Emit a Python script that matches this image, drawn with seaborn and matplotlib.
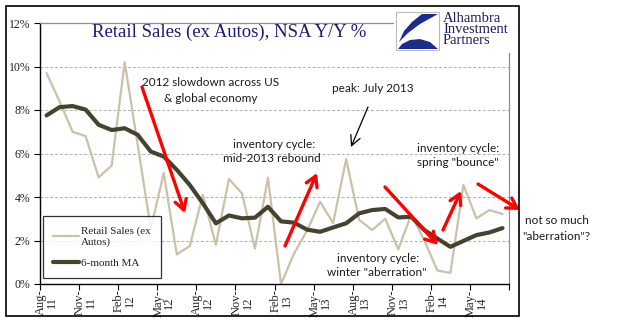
import numpy as np
import pandas as pd
import matplotlib
matplotlib.use("Agg")
import matplotlib.pyplot as plt
from matplotlib.patches import Rectangle, Polygon
from matplotlib.ticker import FixedLocator
import seaborn as sns

# ---------------- data ----------------
months = ["Aug-11", "Sep-11", "Oct-11", "Nov-11", "Dec-11", "Jan-12", "Feb-12", "Mar-12",
          "Apr-12", "May-12", "Jun-12", "Jul-12", "Aug-12", "Sep-12", "Oct-12", "Nov-12",
          "Dec-12", "Jan-13", "Feb-13", "Mar-13", "Apr-13", "May-13", "Jun-13", "Jul-13",
          "Aug-13", "Sep-13", "Oct-13", "Nov-13", "Dec-13", "Jan-14", "Feb-14", "Mar-14",
          "Apr-14", "May-14", "Jun-14", "Jul-14"]
retail_sales = [9.7, 8.4, 7.0, 6.8, 4.9, 5.45, 10.2, 6.4,
                2.55, 5.1, 1.36, 1.75, 4.1, 1.8, 4.83, 4.17,
                1.63, 4.88, 0.0, 1.4, 2.45, 3.78, 2.8, 5.74,
                2.95, 2.48, 3.0, 1.59, 3.2, 2.0, 0.62, 0.51,
                4.55, 3.02, 3.4, 3.22]
ma_6month = [7.75, 8.13, 8.18, 8.02, 7.32, 7.08, 7.16, 6.86,
             6.09, 5.86, 5.25, 4.55, 3.71, 2.79, 3.15, 3.02,
             3.05, 3.55, 2.88, 2.82, 2.5, 2.4, 2.6, 2.79,
             3.25, 3.4, 3.45, 3.06, 3.09, 2.48, 2.09, 1.71,
             1.98, 2.25, 2.37, 2.57]
tick_labels = ["Aug-\n11", "Nov-\n11", "Feb-\n12", "May-\n12", "Aug-\n12", "Nov-\n12",
               "Feb-\n13", "May-\n13", "Aug-\n13", "Nov-\n13", "Feb-\n14", "May-\n14"]
y_ticks = [0, 2, 4, 6, 8, 10, 12]

# ---------------- setup ----------------
W, H = 629, 324
sns.set_theme(style="white")
plt.rcParams["font.family"] = ["Liberation Serif", "DejaVu Serif"]

fig = plt.figure(figsize=(W / 100, H / 100), dpi=100)
fig.patch.set_facecolor("white")
ax = fig.add_axes([40 / W, 1 - 284 / H, (509 - 40) / W, (284 - 23) / H])

df = pd.DataFrame({"pos": np.arange(len(months)) + 0.5,
                   "Retail Sales (ex\nAutos)": retail_sales,
                   "6-month MA": ma_6month})

c_retail = "#C9C2A8"
c_ma = "#45432F"
sns.lineplot(data=df, x="pos", y="Retail Sales (ex\nAutos)", ax=ax, color=c_retail,
             lw=1.6, label="Retail Sales (ex\nAutos)")
sns.lineplot(data=df, x="pos", y="6-month MA", ax=ax, color=c_ma, lw=3.0,
             label="6-month MA")

ax.set_xlim(0, len(months))
ax.set_ylim(0, 12)
ax.set_xlabel("")
ax.set_ylabel("")

# y axis
ax.set_yticks(y_ticks)
ax.set_yticklabels([f"{v}%" for v in y_ticks], fontsize=8.5, color="#222222")
ax.tick_params(axis="y", length=4, width=0.8, color="black", pad=3, left=True)
for v in y_ticks[1:-1]:
    ax.axhline(v, color="#B0B0B0", lw=0.7, ls=(0, (3, 2)), zorder=0)

# x axis: labels centered on categories, tick marks at boundaries
ax.xaxis.set_major_locator(FixedLocator(np.arange(0, 36, 3) + 0.5))
ax.set_xticklabels(tick_labels, rotation=90, fontsize=9, color="#222222",
                   linespacing=0.9, ha="center", va="top")
ax.tick_params(axis="x", which="major", length=0, pad=4, bottom=True)
ax.xaxis.set_minor_locator(FixedLocator(np.arange(0, 37, 3)))
ax.tick_params(axis="x", which="minor", length=4, width=0.8, color="black", bottom=True)

for s in ["left", "bottom"]:
    ax.spines[s].set_color("black")
    ax.spines[s].set_linewidth(1.0)
for s in ["top", "right"]:
    ax.spines[s].set_color("#909090")
    ax.spines[s].set_linewidth(0.9)

leg = ax.legend(loc="lower left", bbox_to_anchor=(3 / 469, 6 / 261), fontsize=8,
                frameon=True, fancybox=False, edgecolor="black", handlelength=2.3,
                handletextpad=0.2, borderpad=0.9, labelspacing=1.0, borderaxespad=0)
leg.get_frame().set_linewidth(0.9)
for t in leg.get_texts():
    t.set_color("#222222")

# ---------------- helpers ----------------
def fx(x):
    return x / W


def fy(y):
    return 1 - y / H


def ftext(x, y, s, **kw):
    opts = dict(ha="center", va="center", fontsize=8.5, family=["Lato", "DejaVu Sans"],
                color="#1a1a1a")
    opts.update(kw)
    fig.text(fx(x), fy(y), s, **opts)


def arrow(x0, y0, x1, y1, color="#FF0000", lw=2.4, style="->,head_length=0.6,head_width=0.35"):
    ax.annotate("", xy=(x1, H - y1), xytext=(x0, H - y0), xycoords="figure pixels",
                textcoords="figure pixels", annotation_clip=False,
                arrowprops=dict(arrowstyle=style, color=color, lw=lw,
                                shrinkA=0, shrinkB=0, mutation_scale=12))

# ---------------- title & annotations ----------------
ftext(229, 32, "Retail Sales (ex Autos), NSA Y/Y %", fontsize=13.5,
      family=["Liberation Serif", "DejaVu Serif"], color="#1C1C6E")

ftext(211, 83, "2012 slowdown across US")
ftext(211, 98, "& global economy")
arrow(142, 87, 185, 213)

ftext(274, 144, "inventory cycle:")
ftext(272, 159, "mid-2013 rebound")
arrow(285, 246, 317, 173)

ftext(373, 88, "peak: July 2013")
arrow(368, 107, 351, 147, color="black", lw=0.9,
      style="->,head_length=0.6,head_width=0.3")

ftext(458, 149, "inventory cycle:")
ftext(458, 163, "spring \"bounce\"")
arrow(443, 230, 461, 191)

ftext(378, 258, "inventory cycle:")
ftext(377, 272, "winter \"aberration\"")
arrow(385, 187, 438, 245)

arrow(478, 184, 520, 210)
ftext(557, 221, "not so much")
ftext(556, 236, "\"aberration\"?")

# ---------------- logo ----------------
fig.add_artist(Rectangle((fx(394), fy(53)), (515 - 394) / W, (53 - 9) / H,
                         transform=fig.transFigure, facecolor="white", edgecolor="none",
                         zorder=4))
fig.add_artist(Rectangle((fx(396), fy(50)), (439 - 396) / W, (50 - 12) / H,
                         transform=fig.transFigure, facecolor="white", edgecolor="#BBBBBB",
                         lw=0.8, zorder=5))
blue = "#1A2D8C"
upper = [(422, 14), (438, 14), (420, 24), (408, 33), (399, 42), (404, 31), (412, 22)]
lower = [(398, 49), (438, 49), (430, 42), (420, 39), (410, 40), (402, 44)]
for poly in (upper, lower):
    fig.add_artist(Polygon([(fx(x), fy(y)) for x, y in poly], closed=True,
                           transform=fig.transFigure, facecolor=blue, edgecolor="none",
                           zorder=6))
fig.text(fx(443), fy(12), "Alhambra\nInvestment\nPartners", ha="left", va="top",
         fontsize=10.5, linespacing=0.82, color="#1C1C5E",
         family=["Liberation Serif", "DejaVu Serif"], zorder=6)

# outer chart frame
fig.add_artist(Rectangle((fx(6), fy(316)), (519 - 6) / W, (316 - 6) / H,
                         transform=fig.transFigure, fill=False, edgecolor="black",
                         lw=1.2, zorder=3))

fig.savefig("out.png", dpi=100, facecolor="white")
